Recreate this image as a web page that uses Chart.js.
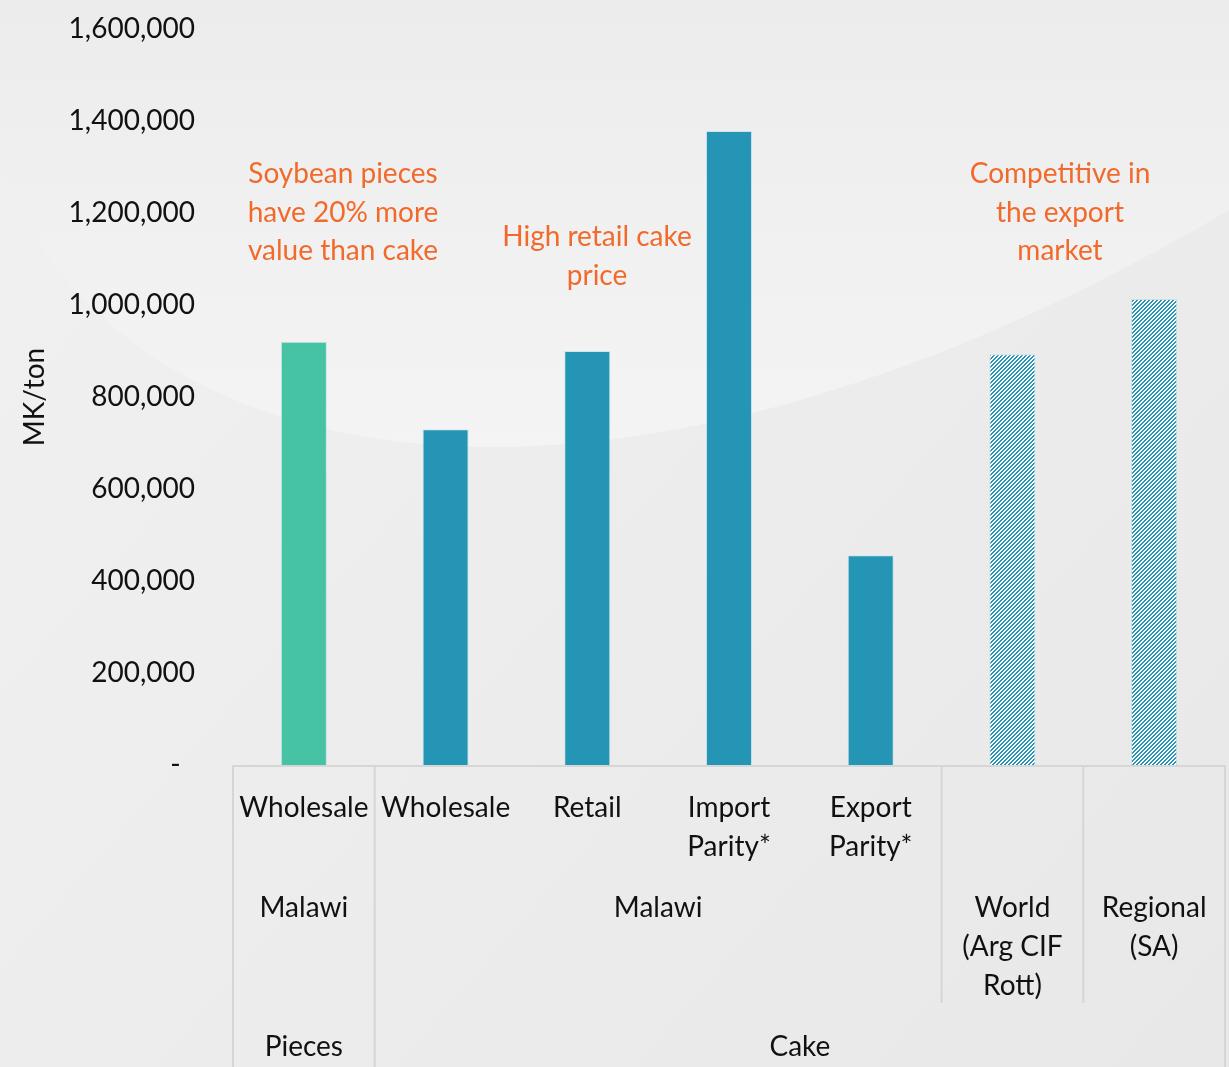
<!DOCTYPE html>
<html>
<head>
<meta charset="utf-8">
<script src="https://cdn.jsdelivr.net/npm/chart.js@4/dist/chart.umd.min.js"></script>
<style>
  html, body { margin: 0; padding: 0; background: #eeeeee; }
  #wrap { width: 1229px; height: 1067px; position: relative; }
</style>
</head>
<body>
<div id="wrap"><canvas id="priceChart" width="1229" height="1067"></canvas></div>
<script>
// ---- data ----
const categories = ['Wholesale', 'Wholesale', 'Retail', 'Import Parity*', 'Export Parity*', 'World (Arg CIF Rott)', 'Regional (SA)'];
const values = [920000, 730000, 900000, 1378000, 456000, 893000, 1013000];
const barKind = ['pieces', 'cake', 'cake', 'cake', 'cake', 'hatch', 'hatch'];

// multi level axis labels
const level1 = [['Wholesale'], ['Wholesale'], ['Retail'], ['Import', 'Parity*'], ['Export', 'Parity*'], [], []];
const level2 = [
  { text: ['Malawi'], from: 0, to: 0 },
  { text: ['Malawi'], from: 1, to: 4 },
  { text: ['World', '(Arg CIF', 'Rott)'], from: 5, to: 5 },
  { text: ['Regional', '(SA)'], from: 6, to: 6 }
];
const level3 = [
  { text: ['Pieces'], from: 0, to: 0 },
  { text: ['Cake'], from: 1, to: 6 }
];

const yMin = 0, yMax = 1600000, yStep = 200000;
const yTitle = 'MK/ton';

const notes = [
  ['Soybean pieces', 'have 20% more', 'value than cake'],
  ['High retail cake', 'price'],
  ['Competitive in', 'the export', 'market']
];

// ---- styles ----
const FONT = 'Lato, Calibri, "Open Sans", sans-serif';
const GREEN = '#45c3a4';
const BLUE = '#2595b5';
const ORANGE = '#f26a2b';
const LINE = '#d6d6d6';

function hatchPattern() {
  const c = document.createElement('canvas');
  c.width = 4; c.height = 4;
  const g = c.getContext('2d');
  g.fillStyle = '#ffffff';
  g.fillRect(0, 0, 4, 4);
  g.fillStyle = BLUE;
  for (let x = 0; x < 4; x++) {
    for (let y = 0; y < 4; y++) {
      if ((x + y) % 4 < 2) g.fillRect(x, y, 1, 1);
    }
  }
  return g.createPattern(c, 'repeat');
}
const hatch = hatchPattern();

const colors = barKind.map(k => k == 'pieces' ? GREEN : (k == 'cake' ? BLUE : hatch));

// background swoosh
const bgPlugin = {
  id: 'bg',
  beforeDraw(chart) {
    const ctx = chart.ctx;
    const w = chart.width, h = chart.height;
    ctx.save();
    let g = ctx.createLinearGradient(0, 0, w, h);
    g.addColorStop(0, '#f1f1f1');
    g.addColorStop(1, '#e8e8e8');
    ctx.fillStyle = g;
    ctx.fillRect(0, 0, w, h);

    ctx.beginPath();
    ctx.moveTo(0, 0);
    ctx.lineTo(0, 170);
    ctx.bezierCurveTo(130, 490, 620, 570, 1229, 210);
    ctx.lineTo(1229, 0);
    ctx.closePath();
    g = ctx.createLinearGradient(0, 0, 0, 470);
    g.addColorStop(0, '#ececec');
    g.addColorStop(0.55, '#f1f1f1');
    g.addColorStop(1, '#f4f4f4');
    ctx.fillStyle = g;
    ctx.fill();
    ctx.restore();
  }
};

function drawLines(ctx, lines, x, y, lh) {
  lines.forEach((t, i) => ctx.fillText(t, x, y + i * lh));
}

const axisPlugin = {
  id: 'multiAxis',
  afterDraw(chart) {
    const ctx = chart.ctx;
    const xs = chart.scales.x;
    const area = chart.chartArea;
    const half = (xs.getPixelForValue(1) - xs.getPixelForValue(0)) / 2;
    const edge = i => xs.getPixelForValue(i) - half;
    const lh = 39;
    const row1 = area.bottom + 43, row2 = area.bottom + 143, row3 = area.bottom + 282;
    const end2 = area.bottom + 238, end3 = chart.height;

    ctx.save();
    ctx.strokeStyle = LINE;
    ctx.lineWidth = 2;
    ctx.beginPath();
    ctx.moveTo(area.left, area.bottom + 1);
    ctx.lineTo(area.right, area.bottom + 1);
    // level 3 group borders
    level3.forEach(grp => {
      [edge(grp.from), edge(grp.to + 1)].forEach(x => {
        ctx.moveTo(x, area.bottom); ctx.lineTo(x, end3);
      });
    });
    // level 2 group borders
    level2.forEach(grp => {
      [edge(grp.from), edge(grp.to + 1)].forEach(x => {
        ctx.moveTo(x, area.bottom); ctx.lineTo(x, end2);
      });
    });
    ctx.stroke();

    ctx.fillStyle = '#111111';
    ctx.font = '28px ' + FONT;
    ctx.textAlign = 'center';
    ctx.textBaseline = 'middle';
    level1.forEach((lines, i) => drawLines(ctx, lines, xs.getPixelForValue(i), row1, lh));
    level2.forEach(grp => drawLines(ctx, grp.text, (edge(grp.from) + edge(grp.to + 1)) / 2, row2, lh));
    level3.forEach(grp => drawLines(ctx, grp.text, (edge(grp.from) + edge(grp.to + 1)) / 2, row3, lh));

    // callouts
    ctx.fillStyle = ORANGE;
    const spots = [[343, 174], [597, 237], [1060, 174]];
    notes.forEach((lines, i) => drawLines(ctx, lines, spots[i][0], spots[i][1], 38.5));
    ctx.restore();
  }
};

const config = {
  type: 'bar',
  data: {
    labels: categories,
    datasets: [{
      data: values,
      backgroundColor: colors,
      borderColor: 'rgba(180,220,230,0.6)',
      borderWidth: 1,
      barPercentage: 0.325,
      categoryPercentage: 1
    }]
  },
  options: {
    responsive: false,
    animation: false,
    events: [],
    layout: { padding: { left: 0, right: 4, top: 0, bottom: 302 } },
    plugins: {
      legend: { display: false },
      tooltip: { enabled: false }
    },
    scales: {
      x: { display: false },
      y: {
        min: yMin, max: yMax,
        afterFit: s => { s.width = 233; s.paddingTop = 29; s.paddingBottom = 0; },
        border: { display: false },
        grid: { display: false, drawTicks: false },
        ticks: {
          stepSize: yStep,
          padding: 38,
          color: '#111111',
          font: { family: FONT, size: 28 },
          callback: v => v == 0 ? '-  ' : v.toLocaleString('en-US')
        },
        title: {
          display: true,
          text: yTitle,
          color: '#111111',
          font: { family: FONT, size: 28 },
          padding: { top: 18, bottom: 0 }
        }
      }
    }
  },
  plugins: [bgPlugin, axisPlugin]
};

new Chart(document.getElementById('priceChart'), config);
</script>
</body>
</html>
